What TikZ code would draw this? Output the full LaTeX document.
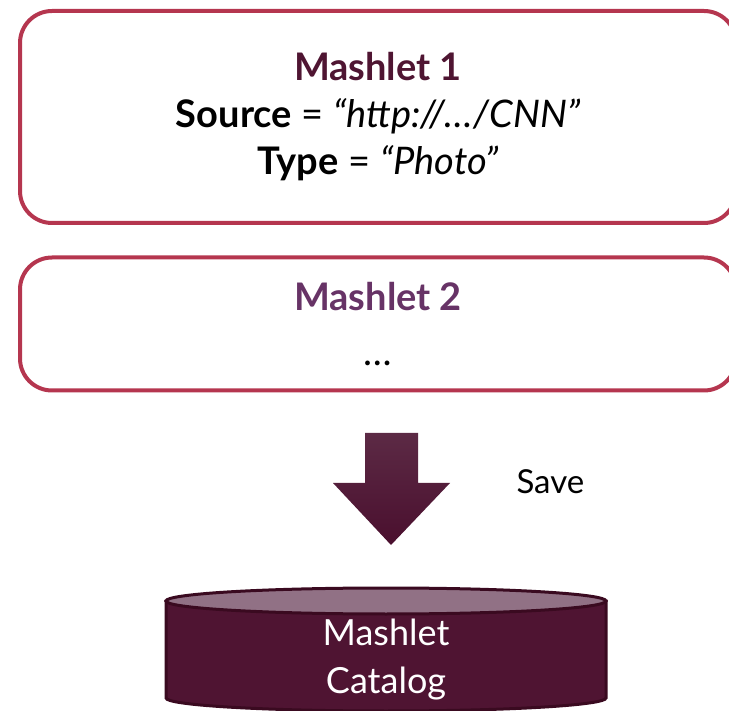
\documentclass[tikz,border=0pt]{standalone}
\usepackage{fontspec}
\setmainfont{Lato}
\definecolor{rahmen}{HTML}{B5364F}
\definecolor{titeleins}{HTML}{4F1532}
\definecolor{titelzwei}{HTML}{673366}
\definecolor{speicher}{HTML}{4F1432}
\definecolor{speicherrand}{HTML}{3A0A20}
\definecolor{deckel}{HTML}{917185}
\definecolor{pfeiloben}{HTML}{5C2A45}
\definecolor{pfeilunten}{HTML}{4A0F2E}
\begin{document}
\begin{tikzpicture}[x=1pt, y=-1pt,
    kasten/.style={draw=rahmen, line width=4pt, rounded corners=32pt,
      minimum width=716pt, inner sep=0pt, align=center,
      font=\fontsize{38}{47}\selectfont},
    ]
  \useasboundingbox (0,0) rectangle (729,711);

  % Mashlet 1
  \node[kasten, minimum height=212pt] (m1) at (378,117)
    {{\color{titeleins}\bfseries Mashlet 1}\\
     {\bfseries Source} = \emph{``http://\dots/CNN''}\\
     {\bfseries Type} = \emph{``Photo''}};

  % Mashlet 2
  \node[kasten, minimum height=133pt] (m2) at (378,324)
    {{\color{titelzwei}\bfseries Mashlet 2}\\[8pt] \dots};

  % Speichern
  \shade[top color=pfeiloben, bottom color=pfeilunten]
    (365,433) -- (418,433) -- (418,483) -- (450,483) -- (391,545)
    -- (333,483) -- (365,483) -- cycle;
  \node[font=\fontsize{33}{38}\selectfont, anchor=west] (save) at (513,482) {Save};

  % Katalog (Zylinder)
  \filldraw[fill=speicher, draw=speicherrand, line width=3pt]
    (166,601) -- (166,698) arc (180:0:220 and 13) -- (606,601) -- cycle;
  \filldraw[fill=deckel, draw=speicherrand, line width=3pt]
    (386,601) ellipse (220 and 13);
  \node[text=white, align=center, font=\fontsize{36}{48}\selectfont]
    (katalog) at (386,660) {Mashlet\\Catalog};
\end{tikzpicture}
\end{document}
